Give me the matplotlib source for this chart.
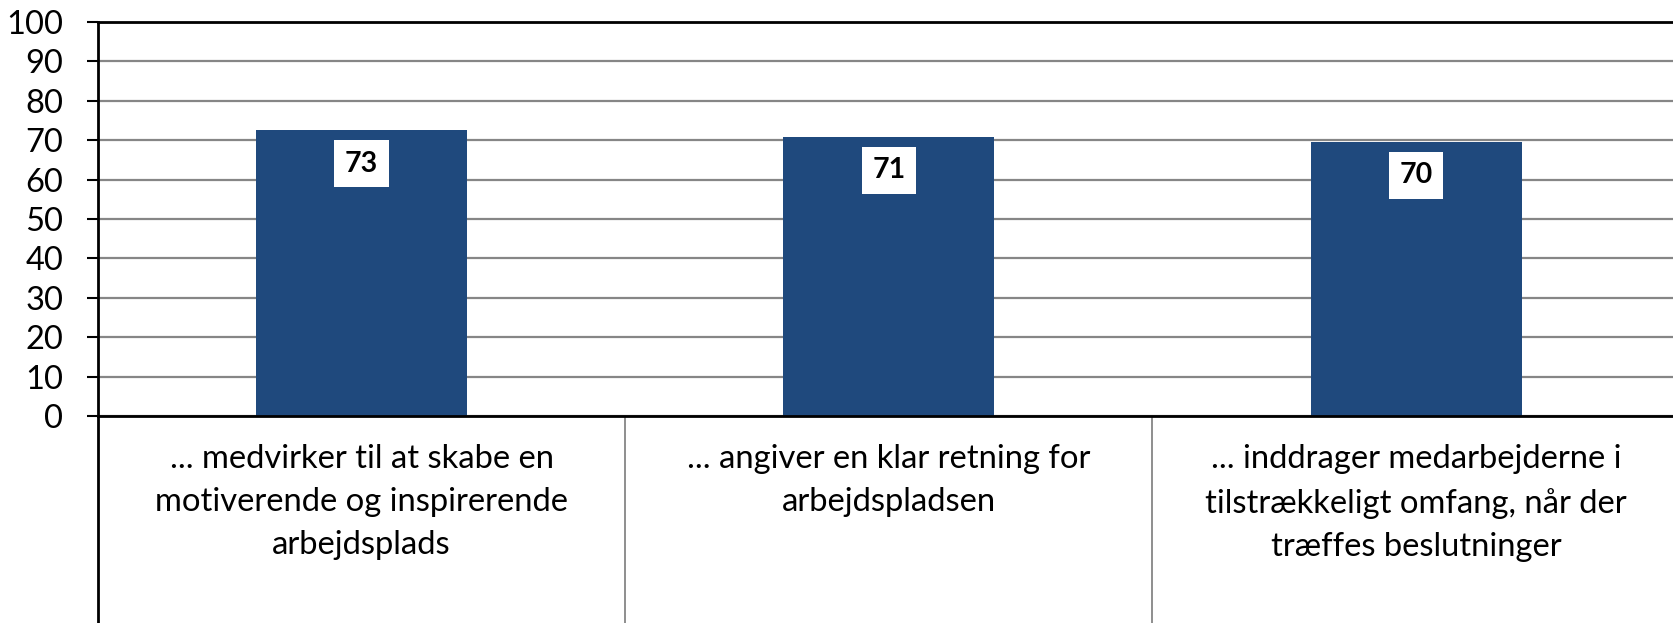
import matplotlib.pyplot as plt

# data
categories = [
    "... medvirker til at skabe en\nmotiverende og inspirerende\narbejdsplads",
    "... angiver en klar retning for\narbejdspladsen",
    "... inddrager medarbejderne i\ntilstrækkeligt omfang, når der\ntræffes beslutninger",
]
values = [72.6, 70.9, 69.6]
yticks = list(range(0, 101, 10))

plt.rcParams['font.family'] = ['Lato', 'DejaVu Sans']

fig = plt.figure(figsize=(16.73, 6.23), dpi=100)
ax = fig.add_axes([98 / 1673, 207 / 623, 1 - 98 / 1673 + 0.004, 394 / 623])

x = list(range(len(values)))
bars = ax.bar(x, values, width=0.4, color='#1F497D', zorder=3)

# value labels in white boxes just under the bar top
for xi, v in zip(x, values):
    ax.annotate(f"{v:.0f}", (xi, v), xytext=(0, -14.8), textcoords='offset points',
                ha='center', va='top', fontsize=20.5, fontweight='bold', color='black',
                bbox=dict(boxstyle='square,pad=0.37', fc='white', ec='none'), zorder=4)

ax.set_xlim(-0.5, len(values) - 0.5)
ax.set_ylim(0, 100)
ax.set_yticks(yticks)
ax.tick_params(axis='y', direction='out', length=8, width=1.5, labelsize=23.5, pad=17)
ax.set_xticks([])
ax.yaxis.grid(True, color='#868686', linewidth=1.6, zorder=0)

for side in ['left', 'bottom', 'top']:
    ax.spines[side].set_linewidth(2)
    ax.spines[side].set_color('black')
ax.spines['right'].set_visible(False)
ax.spines['bottom'].set_zorder(5)

# category label area below the axis with separators
trans = ax.get_xaxis_transform()
drop = -207 / 394
ax.plot([-0.5, -0.5], [0, drop], color='black', lw=2, transform=trans, clip_on=False)
for b in [0.5, 1.5]:
    ax.plot([b, b], [0, drop], color='#868686', lw=1.3, transform=trans, clip_on=False)

for xi, lab in zip(x, categories):
    ax.text(xi, -0.07, lab, transform=trans, ha='center', va='top',
            fontsize=23.6, linespacing=1.56)

plt.savefig('out.png', dpi=100)
